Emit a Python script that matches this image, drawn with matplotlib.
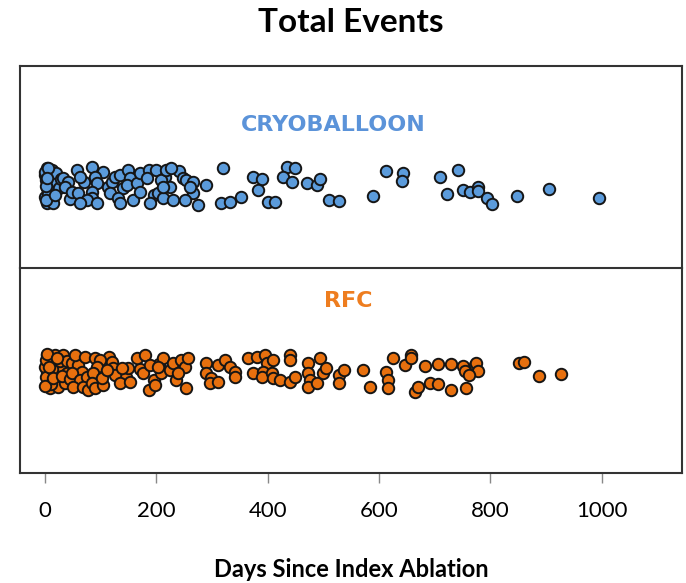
import matplotlib
matplotlib.use("Agg")
import matplotlib.pyplot as plt

# Days since index ablation and vertical jitter (strip offset)
cryo_days = [3, 12, 0, 9, 3, 15, 3, 9, 0, 12, 3, 15, 0, 2, 5, 1, 20, 25,
             6, 1, 4, 18, 28, 45, 70, 105, 140, 160, 195, 215, 240,
             33, 42, 36, 48, 60, 57, 63, 84, 90, 93, 84, 84, 75, 93, 63,
             114, 120, 117, 132, 135, 126, 135, 150, 153, 147, 159, 165, 171, 171,
             186, 200, 183, 189, 203, 209, 212, 218, 227, 224, 212, 230,
             248, 254, 266, 266, 251, 275, 260, 290, 320, 317,
             332, 353, 374, 389, 383, 401, 413, 434, 449, 428, 443, 470, 488, 494,
             511, 529, 589, 613, 643, 642,
             709, 742, 722, 751, 764, 778, 778, 794, 803, 847, 906, 996]
cryo_jitter = [0.98, 0.88, 0.59, 0.49, 0.20, 0.10, -0.20, -0.39, -0.69, -0.88, -1.08, -1.08,
               0.78, 0.30, -0.50, -0.90, 0.70, -0.20,
               1.00, -0.05, 0.40, -0.60, 0.35, -0.85, 0.15, 0.75, -0.20, 0.55, -0.60, 0.45,
               0.80,
               0.39, 0.20, -0.10, -0.39, -0.49, 0.88, 0.49, 1.08, 0.49, 0.10, -0.39, -0.78,
               -0.88, -1.08, -1.08,
               -0.10, 0.20, -0.49, -0.78, -1.08, 0.49, 0.59, 0.88, 0.39, 0.00, -0.88, 0.10,
               -0.39, 0.69,
               0.88, 0.88, 0.39, -1.08, -0.49, 0.29, -0.78, 0.88, 0.98, -0.10, -0.10, -0.88,
               0.39, 0.29, 0.20, -0.49, -0.88, -1.18, -0.10, 0.00, 0.98, -1.08,
               -0.98, -0.69, 0.49, 0.33, -0.29, -0.98, -0.98, 1.08, 0.98, 0.49, 0.20, 0.10,
               0.00, 0.33, -0.88, -0.92, -0.65, 0.84, 0.69, 0.24,
               0.45, 0.88, -0.53, -0.29, -0.39, -0.14, -0.33, -0.75, -1.12, -0.63, -0.24,
               -0.75]

rfc_days = [3, 18, 33, 6, 21, 3, 15, 30, 6, 18, 9, 24, 39, 36, 0, 1, 2, 12, 27, 40, 10,
            0, 4, 8, 14, 22, 30, 45, 58, 80, 115, 145, 170, 205,
            48, 60, 54, 66, 48, 63, 75, 51, 69, 78, 72,
            90, 99, 93, 87, 84, 90, 105, 102,
            120, 123, 126, 135, 153, 150, 138, 111,
            165, 180, 177, 189, 195, 186, 198, 209, 212, 203,
            224, 230, 236, 245, 251, 254, 257, 239,
            290, 290, 299, 296, 311, 311, 323,
            332, 341, 341, 365, 380, 395, 398, 410, 374, 392, 389, 407, 410, 422,
            440, 440, 440, 449, 473, 473, 476, 473, 488, 494, 500, 505,
            529, 529, 538, 571, 583, 613, 616, 616, 625, 646, 658, 658, 664,
            670, 682, 706, 730, 751, 754, 772, 775, 778, 762, 691, 706, 730, 757,
            852, 861, 888, 927]
rfc_jitter = [0.88, 0.88, 0.88, 0.39, 0.29, -0.10, -0.20, 0.00, -0.59, -0.69, -1.08, -0.98,
              -0.20, -0.78, 0.20, 0.60, -0.40, 0.05, 0.50, 0.55, -0.80,
              -0.95, 0.95, 0.15, -0.45, 0.70, -0.35, -0.55, 0.60, -0.60, 0.75, -0.40, 0.05,
              0.35,
              0.39, 0.29, 0.88, -0.10, -0.20, -0.59, -0.39, -0.98, -0.98, -1.18, 0.78,
              0.69, 0.59, 0.20, -0.20, -0.78, -1.08, -0.88, -0.49,
              0.49, 0.10, -0.29, -0.78, -0.69, 0.10, 0.10, 0.00,
              0.69, 0.88, -0.20, 0.29, -0.59, -1.18, -0.88, -0.20, 0.69, 0.20,
              0.00, 0.39, -0.59, 0.59, 0.20, -1.08, 0.69, -0.20,
              0.39, -0.20, -0.49, -0.78, -0.69, 0.29, 0.59,
              0.20, -0.10, -0.39, 0.69, 0.78, 0.88, 0.39, 0.59, -0.20, -0.10, -0.39, -0.20,
              -0.49, -0.59,
              0.88, 0.59, -0.69, -0.39, 0.39, -0.20, -0.59, -0.98, -0.78, 0.69, -0.20, 0.10,
              -0.29, -0.78, 0.00, 0.00, -0.98, -0.10, -0.59, -1.08, 0.69, 0.29, 0.88, 0.69,
              -1.27,
              -0.98, 0.24, 0.35, 0.33, 0.24, -0.04, 0.29, 0.39, -0.04, -0.29, -0.75, -0.82,
              -1.18, -1.08,
              0.39, 0.49, -0.35, -0.25]

xticks = [0, 200, 400, 600, 800, 1000]

blue = "#5b9bdb"
orange = "#e8700e"
label_blue = "#5b93d9"
label_orange = "#ee7d1f"
spine_col = "#333333"

fig = plt.figure(figsize=(6.86, 5.83), dpi=100)
ax_top = fig.add_axes([0.029, 0.5403, 0.965, 0.3465])
ax_bot = fig.add_axes([0.029, 0.1887, 0.965, 0.3516])

for ax in (ax_top, ax_bot):
    ax.set_xlim(-45, 1144)
    ax.set_yticks([])
    for s in ax.spines.values():
        s.set_color(spine_col)
        s.set_linewidth(1.5)

ax_top.spines["bottom"].set_visible(False)
ax_top.set_xticks([])
ax_top.set_ylim(-4.88, 7.0)
ax_bot.set_ylim(-6.06, 6.0)

ax_top.scatter(cryo_days, cryo_jitter, s=68, c=blue, edgecolors="#151515",
               linewidths=1.4, zorder=3)
ax_bot.scatter(rfc_days, rfc_jitter, s=68, c=orange, edgecolors="#151515",
               linewidths=1.4, zorder=3)

ax_top.text(0.474, 0.708, "CRYOBALLOON", transform=ax_top.transAxes, ha="center",
            va="center", color=label_blue, fontsize=16, fontweight="bold",
            family="DejaVu Sans")
ax_bot.text(0.496, 0.837, "RFC", transform=ax_bot.transAxes, ha="center",
            va="center", color=label_orange, fontsize=16, fontweight="bold",
            family="DejaVu Sans")

ax_bot.set_xticks(xticks)
ax_bot.set_xticklabels([str(t) for t in xticks], family="Lato", fontsize=16)
ax_bot.tick_params(axis="x", direction="out", length=7, width=1, color="#888888", pad=13)
ax_bot.set_xlabel("Days Since Index Ablation", family="Lato", fontweight="bold",
                  fontsize=17, labelpad=27)

fig.text(0.511, 0.962, "Total Events", ha="center", va="center", family="Lato",
         fontweight="bold", fontsize=24)

fig.savefig("out.png", dpi=100)
